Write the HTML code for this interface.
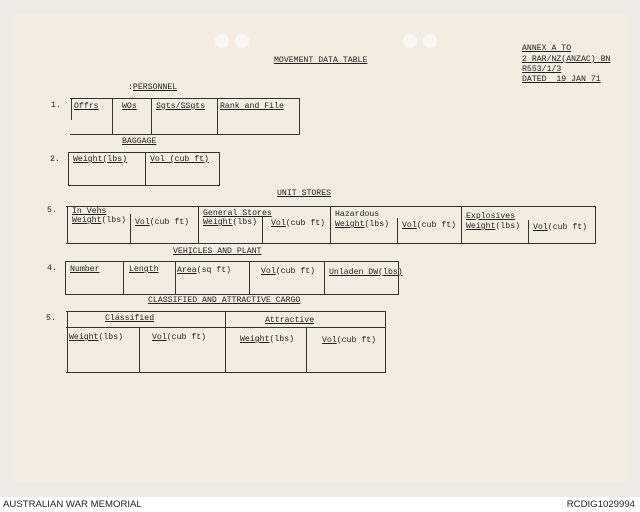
<!DOCTYPE html>
<html><head><meta charset="utf-8"><style>
*{margin:0;padding:0;box-sizing:border-box}
body{width:640px;height:512px;background:#fff;position:relative;overflow:hidden;font-family:"Liberation Mono",monospace;color:#222}
#bg{position:absolute;left:0;top:0;width:640px;height:497px;background:#ecebe6}
#paper{position:absolute;left:13px;top:13px;width:614px;height:470px;background:#f2ede0}
.t{position:absolute;font-size:8.2px;line-height:9px;white-space:pre;color:#222}
.u{text-decoration:underline}
.h{position:absolute;height:1px;background:#333}
.v{position:absolute;width:1px;background:#333}
.hole{position:absolute;width:14px;height:14px;border-radius:50%;background:#f8f7f4}
.f{position:absolute;font-family:"Liberation Sans",sans-serif;font-size:9.6px;color:#222;top:499px}
</style></head><body>
<div id="bg"></div><div id="paper"></div>
<div class="hole" style="left:215px;top:34px"></div><div class="hole" style="left:235px;top:34px"></div>
<div class="hole" style="left:403px;top:34px"></div><div class="hole" style="left:423px;top:34px"></div>

<div class="t u" style="left:274px;top:56px">MOVEMENT DATA TABLE</div>
<div class="t u" style="left:522px;top:44px">ANNEX A TO</div>
<div class="t u" style="left:522px;top:55px">2 RAR/NZ(ANZAC) BN</div>
<div class="t u" style="left:522px;top:65px">R553/1/3</div>
<div class="t u" style="left:522px;top:75px">DATED  19 JAN 71</div>

<!-- 1 -->
<div class="t" style="left:128px;top:83px">:<span class="u">PERSONNEL</span></div>
<div class="t" style="left:51px;top:101px">1.</div>
<div class="h" style="left:70px;top:98px;width:230px"></div>
<div class="h" style="left:70px;top:134px;width:230px"></div>
<div class="v" style="left:71px;top:98px;height:22px"></div>
<div class="v" style="left:112px;top:98px;height:36px"></div>
<div class="v" style="left:151px;top:98px;height:36px"></div>
<div class="v" style="left:217px;top:98px;height:36px"></div>
<div class="v" style="left:299px;top:98px;height:36px"></div>
<div class="t u" style="left:74px;top:102px">Offrs</div>
<div class="t u" style="left:122px;top:102px">WOs</div>
<div class="t u" style="left:156px;top:102px">Sgts/SSgts</div>
<div class="t u" style="left:220px;top:102px">Rank and File</div>

<!-- 2 -->
<div class="t u" style="left:122px;top:137px">BAGGAGE</div>
<div class="t" style="left:50px;top:155px">2.</div>
<div class="h" style="left:68px;top:152px;width:152px"></div>
<div class="h" style="left:68px;top:185px;width:152px"></div>
<div class="v" style="left:68px;top:152px;height:34px"></div>
<div class="v" style="left:145px;top:152px;height:34px"></div>
<div class="v" style="left:219px;top:152px;height:34px"></div>
<div class="t u" style="left:73px;top:155px">Weight(lbs)</div>
<div class="t u" style="left:150px;top:155px">Vol (cub ft)</div>

<!-- 3 -->
<div class="t u" style="left:277px;top:189px">UNIT STORES</div>
<div class="t" style="left:47px;top:206px">5.</div>
<div class="h" style="left:66px;top:206px;width:530px"></div>
<div class="h" style="left:66px;top:243px;width:530px"></div>
<div class="v" style="left:67px;top:206px;height:37px"></div>
<div class="v" style="left:130px;top:214px;height:29px"></div>
<div class="v" style="left:198px;top:206px;height:37px"></div>
<div class="v" style="left:262px;top:216px;height:27px"></div>
<div class="v" style="left:330px;top:206px;height:37px"></div>
<div class="v" style="left:397px;top:218px;height:25px"></div>
<div class="v" style="left:461px;top:206px;height:37px"></div>
<div class="v" style="left:528px;top:220px;height:23px"></div>
<div class="v" style="left:595px;top:206px;height:37px"></div>
<div class="t u" style="left:72px;top:207px">In Vehs</div>
<div class="t" style="left:72px;top:216px"><span class="u">Weight</span>(lbs)</div>
<div class="t" style="left:135px;top:218px"><span class="u">Vol</span>(cub ft)</div>
<div class="t u" style="left:203px;top:209px">General Stores</div>
<div class="t" style="left:203px;top:218px"><span class="u">Weight</span>(lbs)</div>
<div class="t" style="left:271px;top:219px"><span class="u">Vol</span>(cub ft)</div>
<div class="t" style="left:335px;top:210px">Hazardous</div>
<div class="t" style="left:335px;top:220px"><span class="u">Weight</span>(lbs)</div>
<div class="t" style="left:402px;top:221px"><span class="u">Vol</span>(cub ft)</div>
<div class="t u" style="left:466px;top:212px">Explosives</div>
<div class="t" style="left:466px;top:222px"><span class="u">Weight</span>(lbs)</div>
<div class="t" style="left:533px;top:223px"><span class="u">Vol</span>(cub ft)</div>

<!-- 4 -->
<div class="t u" style="left:173px;top:247px">VEHICLES AND PLANT</div>
<div class="t" style="left:47px;top:264px">4.</div>
<div class="h" style="left:65px;top:261px;width:334px"></div>
<div class="h" style="left:65px;top:294px;width:334px"></div>
<div class="v" style="left:65px;top:261px;height:33px"></div>
<div class="v" style="left:123px;top:261px;height:33px"></div>
<div class="v" style="left:175px;top:261px;height:33px"></div>
<div class="v" style="left:249px;top:261px;height:33px"></div>
<div class="v" style="left:324px;top:261px;height:33px"></div>
<div class="v" style="left:398px;top:261px;height:33px"></div>
<div class="t u" style="left:70px;top:265px">Number</div>
<div class="t u" style="left:129px;top:265px">Length</div>
<div class="t" style="left:177px;top:266px"><span class="u">Area</span>(sq ft)</div>
<div class="t" style="left:261px;top:267px"><span class="u">Vol</span>(cub ft)</div>
<div class="t u" style="left:329px;top:268px">Unladen DW(lbs)</div>

<!-- 5 -->
<div class="t u" style="left:148px;top:296px">CLASSIFIED AND ATTRACTIVE CARGO</div>
<div class="t" style="left:46px;top:314px">5.</div>
<div class="h" style="left:66px;top:311px;width:320px"></div>
<div class="h" style="left:66px;top:327px;width:320px"></div>
<div class="h" style="left:66px;top:372px;width:320px"></div>
<div class="v" style="left:67px;top:311px;height:61px"></div>
<div class="v" style="left:139px;top:327px;height:45px"></div>
<div class="v" style="left:225px;top:311px;height:61px"></div>
<div class="v" style="left:306px;top:327px;height:45px"></div>
<div class="v" style="left:385px;top:311px;height:61px"></div>
<div class="t u" style="left:105px;top:314px">Classified</div>
<div class="t u" style="left:265px;top:316px">Attractive</div>
<div class="t" style="left:69px;top:333px"><span class="u">Weight</span>(lbs)</div>
<div class="t" style="left:152px;top:333px"><span class="u">Vol</span>(cub ft)</div>
<div class="t" style="left:240px;top:335px"><span class="u">Weight</span>(lbs)</div>
<div class="t" style="left:322px;top:336px"><span class="u">Vol</span>(cub ft)</div>

<div class="f" style="left:3px">AUSTRALIAN WAR MEMORIAL</div>
<div class="f" style="right:5px">RCDIG1029994</div>
</body></html>
